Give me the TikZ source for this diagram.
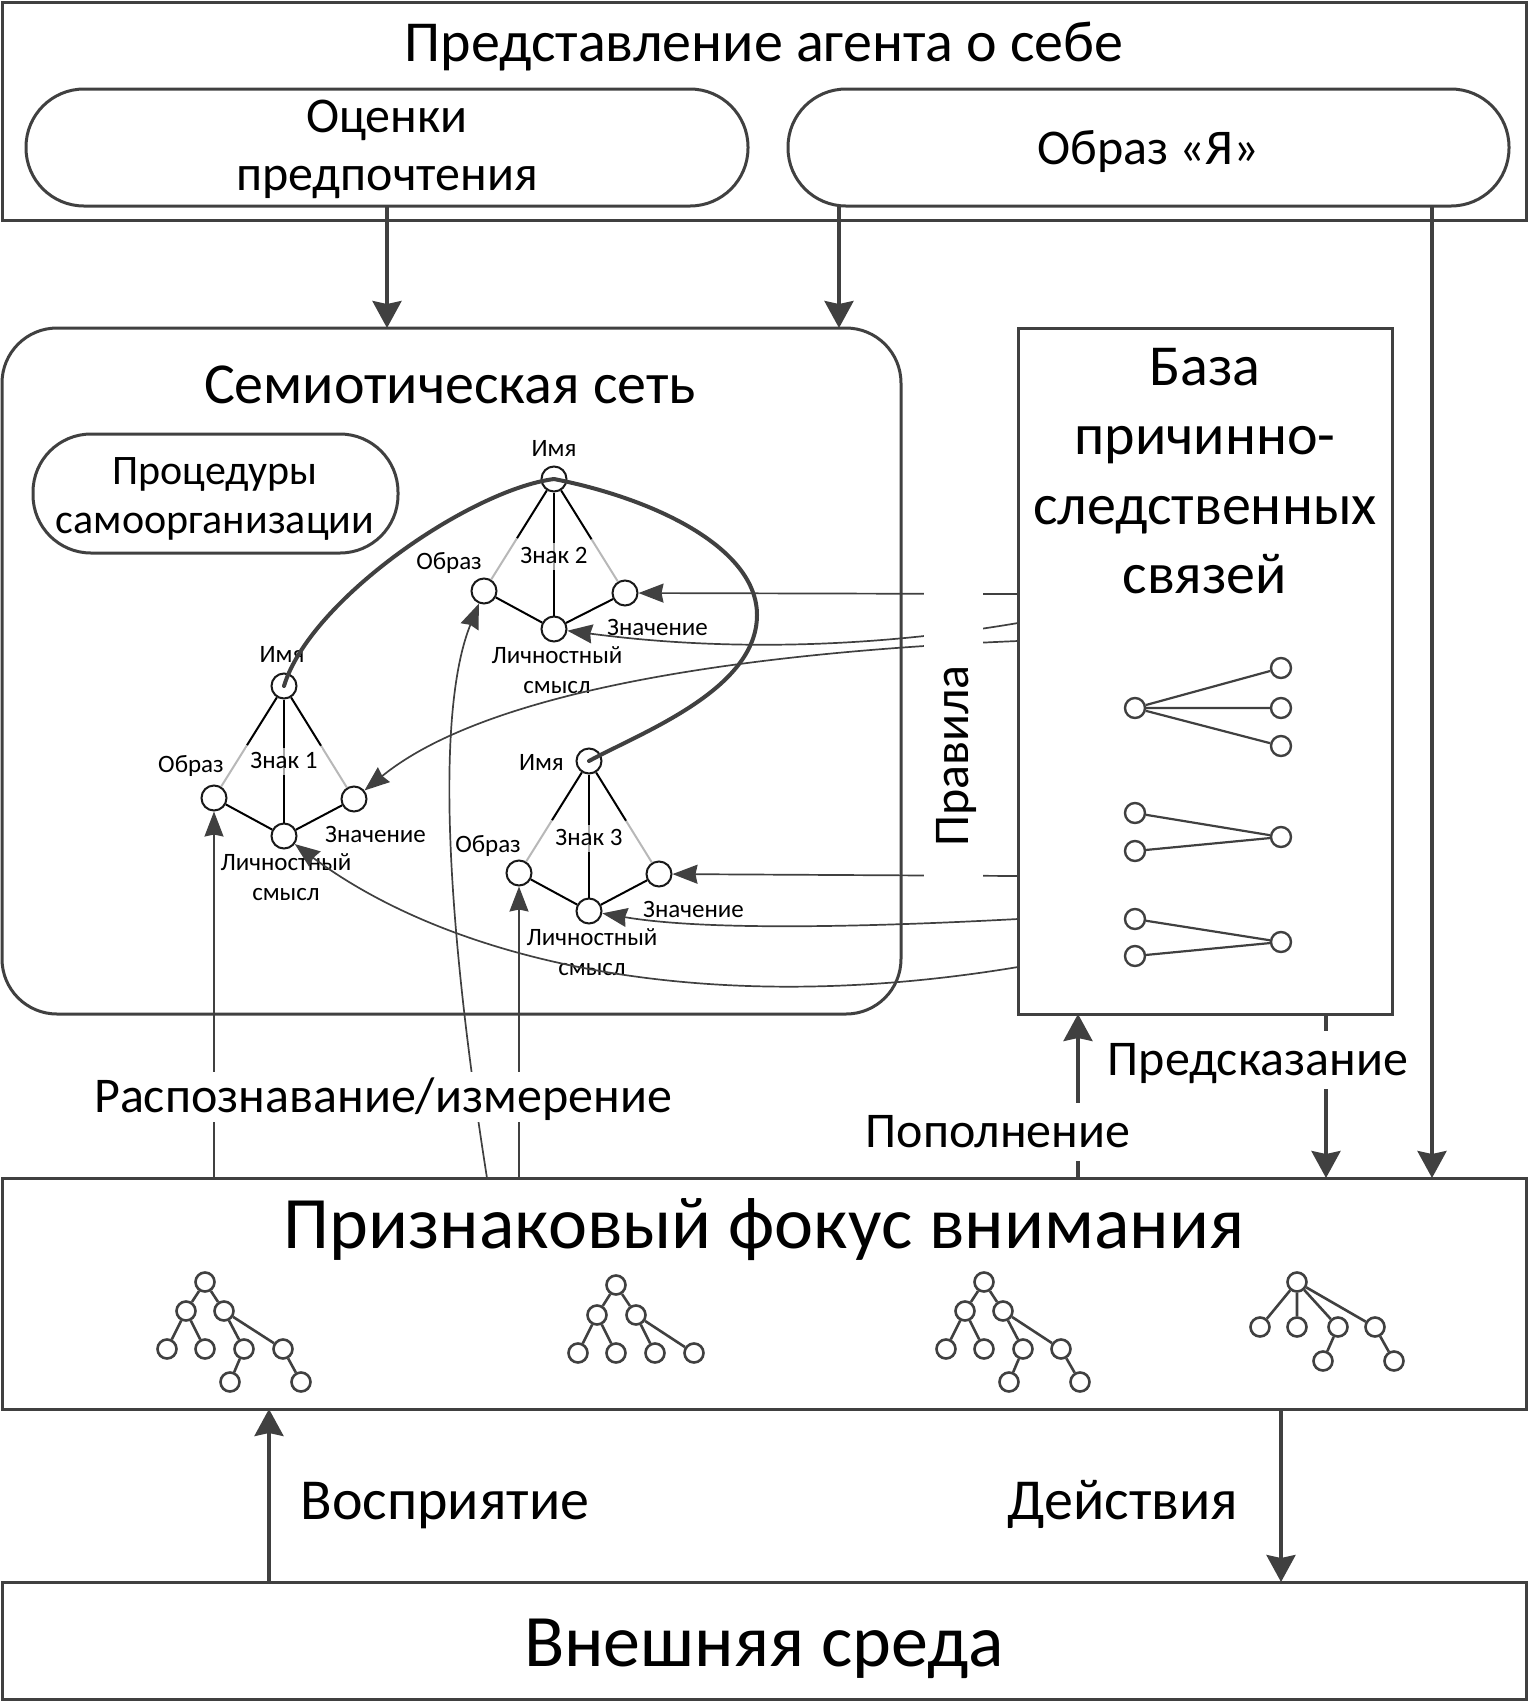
\documentclass[tikz,border=0pt]{standalone}
\usepackage{fontspec}
\setmainfont{Carlito}
\usetikzlibrary{arrows.meta,calc}
\definecolor{dg}{HTML}{404040}
\definecolor{lg}{HTML}{B8B8B8}
\begin{document}
\begin{tikzpicture}[x=1pt,y=-1pt,
  box/.style={draw=dg, line width=3pt, inner sep=0pt, outer sep=0pt, anchor=north west},
  fA/.style={font=\fontsize{58pt}{70pt}\selectfont},
  fB/.style={font=\fontsize{50pt}{60pt}\selectfont},
  fC/.style={font=\fontsize{42pt}{50pt}\selectfont},
  fD/.style={font=\fontsize{74pt}{88pt}\selectfont},
  fS/.style={font=\fontsize{25pt}{30pt}\selectfont},
  tx/.style={inner sep=0pt, anchor=base},
  wlbl/.style={fill=white, inner sep=4pt, text height=36pt, text depth=6pt, anchor=base},
  marr/.style={draw=dg, line width=3.5pt, -{Stealth[length=27pt, width=29pt, inset=3pt]}},
  tarr/.style={draw=dg, line width=1.7pt, -{Stealth[length=25pt, width=19pt, inset=2pt]}},
  thk/.style={draw=dg, line width=4pt, line cap=round},
  sc/.style={circle, draw=black!90, line width=2pt, fill=white, minimum size=25pt, inner sep=0pt},
  se/.style={draw=black, line width=2pt},
  seg/.style={draw=lg, line width=2pt},
  zn/.style={fS, fill=white, fill opacity=0.65, text opacity=1, inner sep=4pt, text height=16pt, text depth=3pt, anchor=base},
  rc/.style={circle, draw=dg, line width=2.4pt, fill=white, minimum size=20pt, inner sep=0pt},
  tc/.style={circle, draw=dg, line width=2.6pt, fill=white, minimum size=19pt, inner sep=0pt},
  re/.style={draw=dg, line width=2.2pt},
  te/.style={draw=dg, line width=2.6pt},
]
\useasboundingbox (0,0) rectangle (1529,1701);

% ---------- boxes ----------
\node[box, minimum width=1524pt, minimum height=218pt] (top) at (2,2) {};
\node[box, rounded corners=58pt, minimum width=722pt, minimum height=117pt] (pill1) at (26,89) {};
\node[box, rounded corners=58pt, minimum width=721pt, minimum height=117pt] (pill2) at (788,89) {};
\node[box, rounded corners=55pt, minimum width=899pt, minimum height=686pt] (sem) at (2,328) {};
\node[box, rounded corners=58pt, minimum width=365pt, minimum height=119pt] (proc) at (33,434) {};
\node[box, minimum width=374pt, minimum height=686pt] (kb) at (1018,328) {};
\node[box, minimum width=1524pt, minimum height=231pt] (focus) at (2,1178) {};
\node[box, minimum width=1524pt, minimum height=117pt] (ext) at (2,1582) {};

% ---------- texts ----------
\node[fA, tx] (ttl) at (764,61) {Представление агента о себе};
\node[fB, tx] (oc1) at (387,132) {Оценки};
\node[fB, tx] (oc2) at (387,190) {предпочтения};
\node[fB, tx] (ya) at (1148,164) {Образ «Я»};
\node[fA, tx] (semt) at (450,403) {Семиотическая сеть};
\node[fC, tx] (pr1) at (215,484) {Процедуры};
\node[fC, tx] (pr2) at (215,533) {самоорганизации};
\node[fA, tx] (kb1) at (1205,385) {База};
\node[fA, tx] (kb2) at (1205,454) {причинно-};
\node[fA, tx] (kb3) at (1205,524) {следственных};
\node[fA, tx] (kb4) at (1205,593) {связей};
\node[fD, tx] (foct) at (764,1248) {Признаковый фокус внимания};
\node[fD, tx] (extt) at (764,1666) {Внешняя среда};
\node[fA, tx] (vospr) at (445,1519) {Восприятие};
\node[fA, tx] (deistv) at (1123,1519) {Действия};

% ---------- main arrows ----------
\draw[marr] (pill1.south) -- (pill1.south |- sem.north);
\draw[marr] (839,0 |- pill2.south) -- (839,0 |- sem.north);
\draw[marr] (1432,0 |- pill2.south) -- (1432,0 |- focus.north);
\draw[marr] (1078,0 |- focus.north) -- (1078,0 |- kb.south);
\draw[marr] (1326,0 |- kb.south) -- (1326,0 |- focus.north);
\draw[marr] (269,0 |- ext.north) -- (269,0 |- focus.south);
\draw[marr] (1281,0 |- focus.south) -- (1281,0 |- ext.north);

% ---------- sign nodes ----------
\node[sc] (i1) at (284,686) {};
\node[sc] (o1) at (214,798) {};
\node[sc] (z1) at (354,799) {};
\node[sc] (l1) at (284,836) {};
\node[sc] (i2) at (554,479) {};
\node[sc] (o2) at (484,591) {};
\node[sc] (z2) at (625,593) {};
\node[sc] (l2) at (554,629) {};
\node[sc] (i3) at (589,761) {};
\node[sc] (o3) at (519,873) {};
\node[sc] (z3) at (659,874) {};
\node[sc] (l3) at (589,911) {};

% sign edges
\foreach \s in {1,2,3}{
  \draw[se] (i\s) -- ($(i\s)!0.53!(o\s)$);
  \draw[seg] ($(i\s)!0.53!(o\s)$) -- (o\s);
  \draw[se] (i\s) -- ($(i\s)!0.53!(z\s)$);
  \draw[seg] ($(i\s)!0.53!(z\s)$) -- (z\s);
  \draw[se] (i\s) -- (l\s);
  \draw[se] (o\s) -- (l\s);
  \draw[se] (z\s) -- (l\s);
}

% sign labels
\node[zn] (zn1) at ($(i1)+(0,82)$) {Знак 1};
\node[zn] (zn2) at ($(i2)+(0,84)$) {Знак 2};
\node[zn] (zn3) at ($(i3)+(0,84)$) {Знак 3};

\node[fS, tx] (im1) at ($(i1)+(-2,-24)$) {Имя};
\node[fS, tx, anchor=base east] (ob1) at ($(i1)+(-60,86)$) {Образ};
\node[fS, tx, anchor=base west] (zv1) at ($(i1)+(41,156)$) {Значение};
\node[fS, tx] (ls1) at ($(i1)+(2,184)$) {Личностный};
\node[fS, tx] (sm1) at ($(i1)+(2,214)$) {смысл};

\node[fS, tx] (im2) at ($(i2)+(0,-23)$) {Имя};
\node[fS, tx, anchor=base east] (ob2) at ($(i2)+(-72,90)$) {Образ};
\node[fS, tx, anchor=base west] (zv2) at ($(i2)+(53,156)$) {Значение};
\node[fS, tx] (ls2) at ($(i2)+(3,184)$) {Личностный};
\node[fS, tx] (sm2) at ($(i2)+(3,214)$) {смысл};

\node[fS, tx, anchor=base east] (im3) at ($(i3)+(-25,9)$) {Имя};
\node[fS, tx, anchor=base east] (ob3) at ($(i3)+(-68,91)$) {Образ};
\node[fS, tx, anchor=base west] (zv3) at ($(i3)+(54,156)$) {Значение};
\node[fS, tx] (ls3) at ($(i3)+(3,184)$) {Личностный};
\node[fS, tx] (sm3) at ($(i3)+(3,214)$) {смысл};

% ---------- thick links between names ----------
\draw[thk] (i1.center) .. controls (310,600) and (470,490) .. (i2.center);
\draw[thk] (i2.center) .. controls (660,500) and (757,550) .. (757,615)
           .. controls (757,690) and (640,733) .. (i3.center);

% ---------- recognition arrows ----------
\coordinate (rb) at (487,1178);
\draw[tarr] (o1 |- focus.north) -- (o1);
\draw[tarr] (rb) .. controls (440,880) and (440,700) .. (o2);
\draw[tarr] (o3 |- focus.north) -- (o3);

% ---------- rules arrows ----------
\coordinate (k1) at (kb.west |- 0,594);
\coordinate (k2) at (kb.west |- 0,623);
\coordinate (k3) at (kb.west |- 0,641);
\coordinate (k4) at (kb.west |- 0,876);
\coordinate (k5) at (kb.west |- 0,919);
\coordinate (k6) at (kb.west |- 0,967);
\draw[tarr] (k1) -- (z2);
\draw[tarr] (k2) .. controls (800,660) and (640,640) .. (l2);
\draw[tarr] (k3) .. controls (800,650) and (500,680) .. (z1);
\draw[tarr] (k4) -- (z3);
\draw[tarr] (k5) .. controls (850,928) and (700,930) .. (l3);
\draw[tarr] (k6) .. controls (700,1020) and (450,960) .. (l1);

% ---------- labels with white background ----------
\node[fill=white, inner sep=0pt, minimum width=59pt, minimum height=312pt] (pravbg) at (953.5,744) {};
\node[fB, tx, rotate=90] (prav) at (968,756) {Правила};
\node[fB, wlbl] (raspoz) at (383,1112) {Распознавание/измерение};
\node[fB, wlbl, inner ysep=8pt] (predsk) at (1258,1075) {Предсказание};
\node[fB, wlbl, inner ysep=8pt] (popoln) at (998,1147) {Пополнение};

% ---------- rule trees in KB ----------
\node[rc] (r1l) at (1135,708) {};
\node[rc] (r1a) at (1281,668) {};
\node[rc] (r1b) at (1281,708) {};
\node[rc] (r1c) at (1281,746) {};
\draw[re] (r1l) -- (r1a) (r1l) -- (r1b) (r1l) -- (r1c);
\node[rc] (r2a) at (1135,813) {};
\node[rc] (r2b) at (1135,851) {};
\node[rc] (r2r) at (1281,837) {};
\draw[re] (r2a) -- (r2r) (r2b) -- (r2r);
\node[rc] (r3a) at (1135,919) {};
\node[rc] (r3b) at (1135,956) {};
\node[rc] (r3r) at (1281,942) {};
\draw[re] (r3a) -- (r3r) (r3b) -- (r3r);

% ---------- trees in focus ----------
\node[tc] (ta1) at (205,1282) {};
\node[tc] (tb1) at (186,1311) {};
\node[tc] (tc1) at (224,1311) {};
\node[tc] (td1) at (167,1349) {};
\node[tc] (te1) at (205,1349) {};
\node[tc] (tf1) at (244,1349) {};
\node[tc] (tg1) at (283,1349) {};
\node[tc] (th1) at (230,1382) {};
\node[tc] (ti1) at (301,1382) {};
\draw[te] (ta1)--(tb1) (ta1)--(tc1) (tb1)--(td1) (tb1)--(te1) (tc1)--(tf1) (tc1)--(tg1) (tf1)--(th1) (tg1)--(ti1);

\node[tc] (ta2) at (616,1285) {};
\node[tc] (tb2) at (597,1315) {};
\node[tc] (tc2) at (636,1315) {};
\node[tc] (td2) at (578,1353) {};
\node[tc] (te2) at (616,1353) {};
\node[tc] (tf2) at (655,1353) {};
\node[tc] (tg2) at (694,1353) {};
\draw[te] (ta2)--(tb2) (ta2)--(tc2) (tb2)--(td2) (tb2)--(te2) (tc2)--(tf2) (tc2)--(tg2);

\node[tc] (ta3) at (984,1282) {};
\node[tc] (tb3) at (965,1311) {};
\node[tc] (tc3) at (1003,1311) {};
\node[tc] (td3) at (946,1349) {};
\node[tc] (te3) at (984,1349) {};
\node[tc] (tf3) at (1023,1349) {};
\node[tc] (tg3) at (1061,1349) {};
\node[tc] (th3) at (1009,1382) {};
\node[tc] (ti3) at (1080,1382) {};
\draw[te] (ta3)--(tb3) (ta3)--(tc3) (tb3)--(td3) (tb3)--(te3) (tc3)--(tf3) (tc3)--(tg3) (tf3)--(th3) (tg3)--(ti3);

\node[tc] (ta4) at (1297,1282) {};
\node[tc] (tb4) at (1260,1327) {};
\node[tc] (tc4) at (1297,1327) {};
\node[tc] (td4) at (1338,1327) {};
\node[tc] (te4) at (1375,1327) {};
\node[tc] (tf4) at (1323,1361) {};
\node[tc] (tg4) at (1394,1361) {};
\draw[te] (ta4)--(tb4) (ta4)--(tc4) (ta4)--(td4) (ta4)--(te4) (td4)--(tf4) (te4)--(tg4);
\end{tikzpicture}
\end{document}
